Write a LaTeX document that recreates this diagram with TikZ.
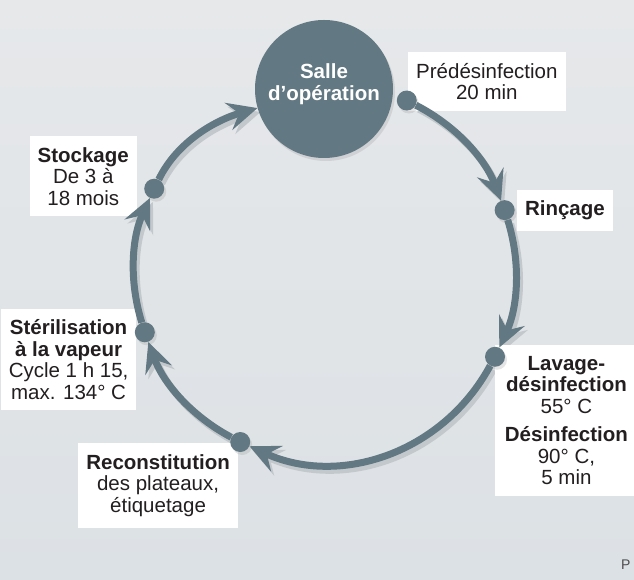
\documentclass[tikz,border=0pt]{standalone}
\usepackage{fontspec}
\setmainfont{Liberation Sans}
\usetikzlibrary{positioning,arrows.meta,shadows,backgrounds}

\definecolor{slate}{HTML}{627882}
\definecolor{bgtop}{HTML}{E6E8EA}
\definecolor{bgbot}{HTML}{DCE1E5}
\definecolor{ink}{HTML}{231F20}
\definecolor{shadowcol}{HTML}{C3C8CC}

\newcommand\labelsize{\fontsize{20.5}{21.5}\selectfont}

% the six arcs of the cycle, drawn once as shadow and once for real
\newcommand\cyclearcs[1]{%
  \draw[#1] (pre) to[bend left=21] (rin);
  \draw[#1] (rin) to[bend left=21] (lav);
  \draw[#1] (lav) to[bend left=43, looseness=1] (rec);
  \draw[#1] (rec) to[bend left=21] (ste);
  \draw[#1] (ste) to[bend left=21] (sto);
  \draw[#1] (sto) to[out=64, in=196] (salle);
}

\tikzset{
  ring/.style={draw=slate, line width=7pt, looseness=.9, -{Stealth[length=30pt,width=28pt,inset=11pt]}},
  ringshadow/.style={ring, draw=shadowcol, transform canvas={shift={(3pt,-4pt)}}},
  dot/.style={circle, fill=slate, minimum size=20pt, inner sep=0pt,
    drop shadow={shadow xshift=2pt, shadow yshift=-3pt, opacity=.2}},
  box/.style={fill=white, text=ink, align=center, inner xsep=8pt, inner ysep=11pt},
}

\begin{document}
\begin{tikzpicture}[x=1pt, y=1pt, font=\labelsize]
  \useasboundingbox (0,0) rectangle (634,580);

  % Define nodes
  \coordinate (c) at (325,308);   % centre of the cycle
  \node[dot, minimum size=138pt, text=white, font=\labelsize\bfseries, align=center,
        text depth=14pt] (salle) at (324,491) {Salle\\d'opération};
  \foreach \n/\a in {pre/64.5, rin/19, lav/-26.5, rec/243.5, ste/198.5, sto/154}
    \node[dot] (\n) at ([shift={(\a:190)}]c) {};

  % Labels and shadows, kept under the dots
  \begin{scope}[on background layer]
    \fill[top color=bgtop, bottom color=bgbot] (0,0) rectangle (634,580);
    \cyclearcs{ringshadow}
    \node[box, above right=-18pt and -6pt of pre] (pre-txt) {Prédésinfection\\20 min};
    \node[box, right=2pt of rin]                  (rin-txt) {\textbf{Rinçage}};
    \node[box, below right=-19pt and -7pt of lav, minimum width=142pt] (lav-txt)
      {\textbf{Lavage-}\\\textbf{désinfection}\\55° C\\[7pt]\textbf{Désinfection}\\90° C,\\5 min};
    \node[box, below left=-6pt and -5pt of rec]   (rec-txt) {\textbf{Reconstitution}\\des plateaux,\\étiquetage};
    \node[box, below left=-31pt and 1pt of ste]   (ste-txt) {\textbf{Stérilisation}\\\textbf{à la vapeur}\\Cycle 1 h 15,\\max. 134° C};
    \node[box, above left=-35pt and 10pt of sto]  (sto-txt) {\textbf{Stockage}\\De 3 à\\18 mois};
  \end{scope}
  \node[font=\fontsize{14}{14}\selectfont, text=ink!80, anchor=base east] (credit) at (634,10) {P};

  % Connect the nodes
  \cyclearcs{ring}

\end{tikzpicture}
\end{document}
